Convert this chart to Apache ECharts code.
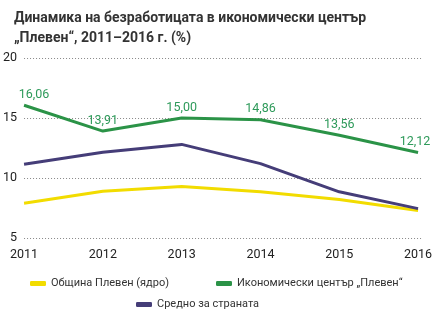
<!DOCTYPE html>
<html>
<head>
<meta charset="utf-8">
<script src="https://cdn.jsdelivr.net/npm/echarts@6/dist/echarts.min.js"></script>
<style>
  html, body { margin: 0; padding: 0; background: #fff; }
  #chart { width: 443px; height: 323px; }
</style>
</head>
<body>
<div id="chart"></div>
<script>
// Unemployment dynamics, 2011–2016 (%)
const years = [2011, 2012, 2013, 2014, 2015, 2016];
const plevenCore = [7.9, 8.9, 9.3, 8.85, 8.2, 7.3];
const economicCentre = [16.06, 13.91, 15.00, 14.86, 13.56, 12.12];
const countryAverage = [11.15, 12.15, 12.8, 11.2, 8.85, 7.45];
const yTicks = [5, 10, 15, 20];

const seriesNames = [
  'Община Плевен (ядро)',
  'Икономически център „Плевен“',
  'Средно за страната'
];
const colors = ['#f2dc00', '#2b9347', '#453d78'];
const font = 'Roboto';

const pairs = vals => years.map((y, i) => [y, vals[i]]);

const chart = echarts.init(document.getElementById('chart'), null, { renderer: 'canvas' });

const legendBase = {
  icon: 'roundRect',
  itemWidth: 16,
  itemHeight: 5,
  itemGap: 0,
  textStyle: { fontFamily: font, fontSize: 11, color: '#333' },
  selectedMode: false
};

chart.setOption({
  animation: false,
  backgroundColor: '#fff',
  title: {
    text: 'Динамика на безработицата в икономически център\n„Плевен“, 2011–2016 г. (%)',
    left: 9,
    top: 3,
    textStyle: {
      fontFamily: font,
      fontSize: 14,
      fontWeight: 'bold',
      color: '#333',
      lineHeight: 20
    }
  },
  legend: [
    Object.assign({}, legendBase, { data: [seriesNames[0]], left: 25, top: 273 }),
    Object.assign({}, legendBase, { data: [seriesNames[1]], left: 211, top: 273 }),
    Object.assign({}, legendBase, { data: [seriesNames[2]], left: 131, top: 294 })
  ],
  grid: { left: 23, right: 21, top: 58, bottom: 85 },
  xAxis: {
    type: 'value',
    min: 2011,
    max: 2016.05,
    axisLine: { show: false },
    axisTick: { show: false },
    splitLine: { show: false },
    axisLabel: {
      customValues: years,
      formatter: v => String(v),
      margin: 10,
      fontFamily: font,
      fontSize: 12.5,
      color: '#222'
    }
  },
  yAxis: {
    type: 'value',
    min: yTicks[0],
    max: yTicks[yTicks.length - 1],
    interval: 5,
    axisLine: { show: false },
    axisTick: { show: false },
    axisLabel: { margin: 7, fontFamily: font, fontSize: 12.5, color: '#222' },
    splitLine: { lineStyle: { type: [1, 2], color: '#888', width: 1 } }
  },
  series: [
    {
      name: seriesNames[0],
      type: 'line',
      data: pairs(plevenCore),
      showSymbol: false,
      lineStyle: { width: 3, color: colors[0] },
      itemStyle: { color: colors[0] },
      z: 3
    },
    {
      name: seriesNames[1],
      type: 'line',
      data: pairs(economicCentre).map((p, i) => ({
        value: p,
        label: i === 0 ? { offset: [10, 0] } : (i === years.length - 1 ? { offset: [-3, 0] } : {})
      })),
      symbol: 'circle',
      symbolSize: 0,
      showSymbol: true,
      lineStyle: { width: 3, color: colors[1] },
      itemStyle: { color: colors[1] },
      label: {
        show: true,
        position: 'top',
        distance: 4,
        fontFamily: font,
        fontSize: 12.5,
        color: '#2e9a5a',
        formatter: p => p.value[1].toFixed(2).replace('.', ',')
      },
      z: 4
    },
    {
      name: seriesNames[2],
      type: 'line',
      data: pairs(countryAverage),
      showSymbol: false,
      lineStyle: { width: 3, color: colors[2] },
      itemStyle: { color: colors[2] },
      z: 5
    }
  ]
});
</script>
</body>
</html>
